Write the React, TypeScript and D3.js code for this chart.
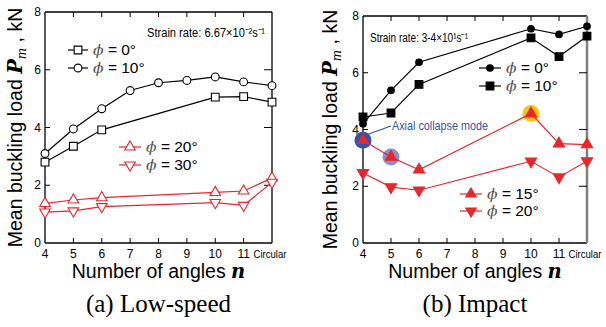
import React, { useRef, useEffect } from 'react';
import * as d3 from 'd3';

// x positions: Circular is drawn at n = 12
const xTicks = [4, 5, 6, 7, 8, 9, 10, 11, 12];
const xTickLabels = ['4', '5', '6', '7', '8', '9', '10', '11', 'Circular'];
const yTicks = [0, 2, 4, 6, 8];

// (a) Low-speed
const lowN = [4, 5, 6, 10, 11, 12];
const lowN10 = [4, 5, 6, 7, 8, 9, 10, 11, 12];
const lowPhi0 = [2.8, 3.35, 3.92, 5.05, 5.07, 4.88];
const lowPhi10 = [3.1, 3.95, 4.65, 5.28, 5.55, 5.63, 5.75, 5.58, 5.45];
const lowPhi20 = [1.37, 1.49, 1.57, 1.75, 1.8, 2.25];
const lowPhi30 = [1.07, 1.11, 1.26, 1.4, 1.3, 2.1];

// (b) Impact
const impN = [4, 5, 6, 10, 11, 12];
const impPhi0 = [4.2, 5.38, 6.37, 7.55, 7.35, 7.64];
const impPhi10 = [4.44, 4.58, 5.59, 7.23, 6.57, 7.29];
const impPhi15 = [3.62, 3.03, 2.58, 4.56, 3.5, 3.47];
const impPhi20 = [2.47, 1.97, 1.86, 2.88, 2.32, 2.89];

// highlighted points in (b): [n, value, colour]
const highlights: [number, number, string][] = [
  [4, 3.62, '#2f55a8'],
  [5, 3.03, '#8a8fd0'],
  [10, 4.56, '#f8c70a'],
];

const RED = '#e8262b';
const SANS = 'Liberation Sans, Arial, sans-serif';

type Sym = 'square' | 'circle' | 'up' | 'down';

const App = () => {
  const ref = useRef<SVGSVGElement | null>(null);

  useEffect(() => {
    const svg = d3.select(ref.current);
    svg.selectAll('*').remove();

    const symPath = (s: Sym, size: number) => {
      const t = s === 'square' ? d3.symbolSquare : s === 'circle' ? d3.symbolCircle : d3.symbolTriangle;
      return d3.symbol().type(t).size(size)();
    };

    const drawPanel = (
      left: number, right: number, top: number, bottom: number,
      opts: { labelX: number; caption: string; rightGray: boolean }
    ) => {
      const x = d3.scaleLinear().domain([4, 12]).range([left, right]);
      const y = d3.scaleLinear().domain([0, 8]).range([bottom, top]);
      const g = svg.append('g');

      // frame
      g.append('line').attr('x1', left).attr('x2', right).attr('y1', top).attr('y2', top).attr('stroke', '#000').attr('stroke-width', 1.3);
      g.append('line').attr('x1', left).attr('x2', right).attr('y1', bottom).attr('y2', bottom).attr('stroke', '#000').attr('stroke-width', 1.3);
      g.append('line').attr('x1', left).attr('x2', left).attr('y1', top).attr('y2', bottom).attr('stroke', '#000').attr('stroke-width', 1.3);
      g.append('line').attr('x1', right).attr('x2', right).attr('y1', top).attr('y2', bottom)
        .attr('stroke', opts.rightGray ? '#808080' : '#000').attr('stroke-width', opts.rightGray ? 2.5 : 1.3);

      // ticks inward
      xTicks.slice(1, -1).forEach(t => {
        g.append('line').attr('x1', x(t)).attr('x2', x(t)).attr('y1', bottom).attr('y2', bottom - 5).attr('stroke', '#000');
        g.append('line').attr('x1', x(t)).attr('x2', x(t)).attr('y1', top).attr('y2', top + 5).attr('stroke', '#000');
      });
      yTicks.slice(1, -1).forEach(t => {
        g.append('line').attr('x1', left).attr('x2', left + 5).attr('y1', y(t)).attr('y2', y(t)).attr('stroke', '#000');
        g.append('line').attr('x1', right).attr('x2', right - 8).attr('y1', y(t)).attr('y2', y(t)).attr('stroke', '#000');
      });

      // tick labels
      xTicks.forEach((t, i) => {
        const last = i === xTicks.length - 1;
        const tx = g.append('text').attr('x', x(t) - (last ? 2 : 0)).attr('y', bottom + 15)
          .attr('text-anchor', 'middle').attr('font-family', SANS).attr('font-size', last ? 11 : 12)
          .text(xTickLabels[i]);
        if (last) tx.attr('textLength', 33).attr('lengthAdjust', 'spacingAndGlyphs');
      });
      yTicks.forEach(t => {
        g.append('text').attr('x', left - 4).attr('y', y(t) + 4)
          .attr('text-anchor', 'end').attr('font-family', SANS).attr('font-size', 12)
          .text(String(t));
      });

      // axis titles
      const cx = (left + right) / 2;
      const xl = g.append('text').attr('x', cx).attr('y', bottom + 35).attr('text-anchor', 'middle')
        .attr('font-family', SANS).attr('font-size', 19.5);
      xl.append('tspan').text('Number of angles ');
      xl.append('tspan').attr('font-family', 'DejaVu Serif, serif').attr('font-style', 'italic').attr('font-weight', 'bold').text('n');

      const yl = g.append('text')
        .attr('transform', `translate(${opts.labelX},${(top + bottom) / 2}) rotate(-90)`)
        .attr('text-anchor', 'middle').attr('font-family', SANS).attr('font-size', 19.5);
      yl.append('tspan').text('Mean buckling load ');
      yl.append('tspan').attr('font-family', 'DejaVu Serif, serif').attr('font-style', 'italic').attr('font-weight', 'bold').text('P');
      yl.append('tspan').attr('font-family', 'DejaVu Serif, serif').attr('font-style', 'italic').attr('font-size', 12).attr('dy', 4).text('m');
      yl.append('tspan').attr('dy', -4).text(' , kN');

      // caption
      g.append('text').attr('x', cx).attr('y', bottom + 69).attr('text-anchor', 'middle')
        .attr('font-family', 'Liberation Serif, Times New Roman, serif').attr('font-size', 25)
        .text(opts.caption);

      return { x, y, g };
    };

    const series = (
      ctx: { x: d3.ScaleLinear<number, number>; y: d3.ScaleLinear<number, number>; g: any },
      ns: number[], vals: number[], color: string, sym: Sym, filled: boolean, size: number
    ) => {
      const pts = ns.map((n, i) => [n, vals[i]] as [number, number]);
      const line = d3.line<[number, number]>().x(d => ctx.x(d[0])).y(d => ctx.y(d[1]));
      ctx.g.append('path').attr('d', line(pts)).attr('fill', 'none').attr('stroke', color).attr('stroke-width', 1.2);
      pts.forEach(p => {
        ctx.g.append('path').attr('d', symPath(sym, size))
          .attr('transform', `translate(${ctx.x(p[0])},${ctx.y(p[1])})${sym === 'down' ? ' rotate(180)' : ''}`)
          .attr('fill', filled ? color : '#fff').attr('stroke', color).attr('stroke-width', 1.1);
      });
    };

    const legend = (g: any, lx: number, ly: number, label: string, color: string, sym: Sym, filled: boolean, size: number, len: number) => {
      g.append('line').attr('x1', lx).attr('x2', lx + len).attr('y1', ly).attr('y2', ly).attr('stroke', color).attr('stroke-width', 1.2);
      g.append('path').attr('d', symPath(sym, size))
        .attr('transform', `translate(${lx + len / 2},${ly})${sym === 'down' ? ' rotate(180)' : ''}`)
        .attr('fill', filled ? color : '#fff').attr('stroke', color).attr('stroke-width', 1.1);
      const t = g.append('text').attr('x', lx + len + 5).attr('y', ly + 5).attr('font-family', SANS).attr('font-size', 15.5);
      t.append('tspan').attr('font-family', 'DejaVu Serif, serif').attr('font-style', 'italic').attr('fill', '#555').text('\u03d5');
      t.append('tspan').text(` = ${label}\u00b0`);
    };

    // one string with unicode superscripts, squeezed to the narrow width of the original
    const strain = (g: any, sx: number, sy: number, label: string, total: number) => {
      g.append('text').attr('x', sx).attr('y', sy).attr('font-family', SANS).attr('font-size', 12.5)
        .attr('textLength', total).attr('lengthAdjust', 'spacingAndGlyphs').text(label);
    };

    // (a) Low-speed
    const a = drawPanel(45, 272, 12, 243, { labelX: 22, caption: '(a) Low-speed', rightGray: false });
    series(a, lowN, lowPhi0, '#000', 'square', false, 60);
    series(a, lowN10, lowPhi10, '#000', 'circle', false, 48);
    series(a, lowN, lowPhi20, RED, 'up', false, 48);
    series(a, lowN, lowPhi30, RED, 'down', false, 48);
    strain(a.g, 147, 37, 'Strain rate: 6.67×10\u207b\u00b2s\u207b\u00b9', 118);
    legend(a.g, 68, 50, '0', '#000', 'square', false, 60, 20);
    legend(a.g, 68, 68, '10', '#000', 'circle', false, 48, 20);
    legend(a.g, 119, 147, '20', RED, 'up', false, 48, 22);
    legend(a.g, 119, 165, '30', RED, 'down', false, 48, 22);

    // (b) Impact
    const b = drawPanel(363, 587, 16, 243, { labelX: 337, caption: '(b) Impact', rightGray: true });
    highlights.forEach(([n, v, c]) => {
      b.g.append('circle').attr('cx', b.x(n)).attr('cy', b.y(v)).attr('r', 8.5).attr('fill', c);
    });
    series(b, impN, impPhi0, '#000', 'circle', true, 34);
    series(b, impN, impPhi10, '#000', 'square', true, 60);
    series(b, impN, impPhi15, RED, 'up', true, 55);
    series(b, impN, impPhi20, RED, 'down', true, 55);
    strain(b.g, 370, 42, 'Strain rate: 3-4×10\u00b9s\u207b\u00b9', 98);
    legend(b.g, 479, 68, '0', '#000', 'circle', true, 34, 22);
    legend(b.g, 479, 86, '10', '#000', 'square', true, 60, 22);
    legend(b.g, 460, 194, '15', RED, 'up', true, 48, 22);
    legend(b.g, 460, 211, '20', RED, 'down', true, 48, 22);

    // annotation
    b.g.append('line').attr('x1', b.x(4) + 5).attr('y1', b.y(3.62) - 6).attr('x2', 391).attr('y2', 126)
      .attr('stroke', '#2f55a8').attr('stroke-width', 1.2);
    b.g.append('text').attr('x', 392).attr('y', 130).attr('font-family', SANS).attr('font-size', 13)
      .attr('textLength', 96).attr('lengthAdjust', 'spacingAndGlyphs')
      .attr('fill', '#2f55a8').text('Axial collapse mode');
  }, []);

  return (
    <svg ref={ref} width={606} height={327} style={{ position: 'absolute', left: 0, top: 0, background: '#fff' }} />
  );
};

export default App;
